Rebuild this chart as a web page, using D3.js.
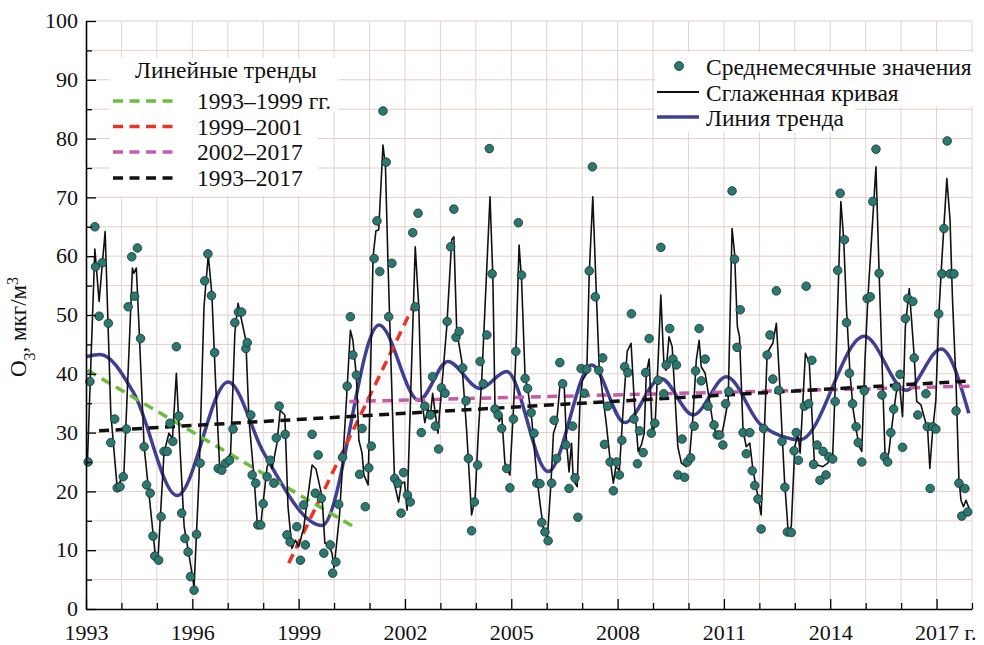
<!DOCTYPE html>
<html><head><meta charset="utf-8">
<script src="https://cdn.jsdelivr.net/npm/d3@7"></script>
<style>
body{margin:0;background:#fff}
svg{display:block}
</style>
</head><body>
<svg id="chart" width="984" height="645"></svg>
<script>
// ---- DATA ----
// monthly mean values [year, µg/m3]
const monthlyPoints = [
[1993.06,25.0],[1993.11,38.7],[1993.25,65.0],[1993.27,58.2],[1993.37,49.8],[1993.46,58.9],[1993.63,48.6],[1993.70,28.3],[1993.81,32.3],[1993.88,20.6],
[1993.96,20.8],[1994.05,22.5],[1994.14,30.6],[1994.19,51.4],[1994.29,59.9],[1994.37,53.2],[1994.45,61.4],[1994.54,46.0],[1994.64,27.6],[1994.71,21.1],
[1994.81,19.7],[1994.89,12.4],[1994.94,9.0],[1995.05,8.3],[1995.12,15.7],[1995.20,26.8],[1995.29,26.8],[1995.37,31.6],[1995.45,28.5],[1995.55,44.6],
[1995.62,32.8],[1995.70,16.3],[1995.79,12.0],[1995.88,9.7],[1995.95,5.5],[1996.05,3.2],[1996.12,12.7],[1996.22,24.8],[1996.35,55.8],[1996.44,60.4],
[1996.54,53.3],[1996.63,43.6],[1996.73,23.9],[1996.83,23.6],[1996.94,24.8],[1997.05,25.3],[1997.15,30.6],[1997.20,48.7],[1997.30,50.5],[1997.39,50.5],
[1997.51,44.3],[1997.55,45.3],[1997.65,33.0],[1997.69,22.8],[1997.79,21.4],[1997.85,14.3],[1997.93,14.3],[1998.00,17.9],[1998.11,22.5],[1998.20,25.3],
[1998.30,21.4],[1998.37,29.1],[1998.45,34.5],[1998.62,29.7],[1998.67,12.6],[1998.76,11.4],[1998.95,14.0],[1999.05,8.3],[1999.14,17.7],[1999.19,10.9],
[1999.38,29.7],[1999.47,19.7],[1999.55,26.2],[1999.64,18.8],[1999.71,9.5],[1999.89,10.9],[1999.96,6.1],[2000.05,8.0],[2000.13,17.8],[2000.24,25.8],
[2000.37,37.9],[2000.46,49.7],[2000.53,43.2],[2000.63,39.8],[2000.72,22.9],[2000.79,30.7],[2000.88,17.4],[2000.98,24.0],[2001.05,27.7],[2001.13,59.6],
[2001.21,66.0],[2001.29,57.4],[2001.38,84.7],[2001.47,76.0],[2001.54,49.7],[2001.63,58.8],[2001.71,22.2],[2001.80,21.4],[2001.89,16.3],[2001.96,23.2],
[2002.07,19.4],[2002.15,18.2],[2002.22,64.0],[2002.29,51.4],[2002.37,67.3],[2002.46,30.0],[2002.56,34.5],[2002.72,33.0],[2002.78,39.5],[2002.86,31.1],
[2002.95,27.2],[2003.03,37.6],[2003.13,36.7],[2003.19,48.9],[2003.29,61.6],[2003.38,68.0],[2003.44,46.2],[2003.53,47.2],[2003.63,41.0],[2003.72,35.4],
[2003.79,25.6],[2003.88,13.3],[2003.96,18.2],[2004.05,24.5],[2004.12,42.1],[2004.21,38.3],[2004.31,46.6],[2004.38,78.3],[2004.46,57.0],[2004.54,34.0],
[2004.63,33.0],[2004.73,30.7],[2004.87,23.9],[2004.96,20.6],[2005.06,32.3],[2005.13,43.8],[2005.20,65.7],[2005.29,56.8],[2005.39,39.2],[2005.46,37.5],
[2005.56,33.4],[2005.64,29.9],[2005.72,21.4],[2005.81,21.3],[2005.86,14.7],[2005.95,13.1],[2006.04,11.6],[2006.14,21.4],[2006.21,32.1],[2006.28,25.6],
[2006.37,41.9],[2006.45,38.3],[2006.54,27.9],[2006.63,20.5],[2006.73,31.1],[2006.80,22.3],[2006.88,15.6],[2006.97,40.9],[2007.06,36.7],[2007.13,40.8],
[2007.20,57.5],[2007.29,75.2],[2007.37,53.1],[2007.47,40.6],[2007.58,42.7],[2007.63,28.0],[2007.72,34.5],[2007.79,25.0],[2007.88,20.1],[2007.97,25.0],
[2008.05,22.8],[2008.12,28.7],[2008.20,41.2],[2008.29,40.2],[2008.39,50.2],[2008.46,32.3],[2008.56,24.7],[2008.62,30.3],[2008.72,26.6],[2008.79,40.2],
[2008.89,46.0],[2008.95,29.9],[2009.05,31.6],[2009.14,38.9],[2009.22,61.5],[2009.30,36.6],[2009.37,41.5],[2009.47,47.7],[2009.56,42.5],[2009.66,41.5],
[2009.70,22.8],[2009.82,28.9],[2009.89,22.4],[2009.97,25.0],[2010.06,25.7],[2010.16,31.1],[2010.20,40.5],[2010.30,47.7],[2010.36,38.8],[2010.47,42.5],
[2010.55,34.5],[2010.72,31.3],[2010.81,29.6],[2010.88,29.6],[2010.97,27.9],[2011.05,34.9],[2011.14,37.0],[2011.23,71.1],[2011.30,59.5],[2011.37,44.5],
[2011.46,50.9],[2011.54,30.0],[2011.63,26.4],[2011.73,30.0],[2011.80,23.5],[2011.87,21.0],[2011.96,18.7],[2012.05,13.6],[2012.12,30.7],[2012.22,43.2],
[2012.30,46.6],[2012.38,39.1],[2012.48,54.1],[2012.55,37.2],[2012.64,28.5],[2012.72,20.7],[2012.79,13.1],[2012.90,13.0],[2012.98,26.9],[2013.04,30.0],
[2013.10,25.3],[2013.27,34.5],[2013.32,54.9],[2013.39,34.9],[2013.48,42.3],[2013.53,24.6],[2013.63,27.9],[2013.71,21.9],[2013.80,26.8],[2013.88,22.8],
[2013.96,25.9],[2014.07,25.5],[2014.14,35.3],[2014.21,57.6],[2014.28,70.7],[2014.40,62.8],[2014.46,48.7],[2014.54,40.1],[2014.63,34.9],[2014.73,31.0],
[2014.79,28.3],[2014.89,25.0],[2014.96,37.1],[2015.04,52.8],[2015.13,53.1],[2015.20,69.3],[2015.29,78.2],[2015.38,57.1],[2015.46,36.4],[2015.53,25.9],
[2015.62,25.0],[2015.71,30.0],[2015.79,34.0],[2015.86,37.8],[2015.97,39.9],[2016.04,27.5],[2016.12,49.4],[2016.19,52.8],[2016.33,52.3],[2016.37,42.7],
[2016.47,33.0],[2016.70,36.6],[2016.74,31.0],[2016.82,20.5],[2016.89,31.0],[2016.98,30.6],[2017.06,50.2],[2017.15,57.0],[2017.21,64.7],[2017.30,79.6],
[2017.38,57.0],[2017.49,57.0],[2017.55,33.7],[2017.63,21.4],[2017.71,15.8],[2017.80,20.5],[2017.88,16.5]
];

// smoothed curve [year, value]
const smoothedCurve = [
[1993.04,25.0],[1993.25,61.2],[1993.37,52.3],[1993.54,64.2],[1993.70,33.3],[1993.88,20.6],[1994.07,23.1],[1994.31,58.0],[1994.35,57.1],[1994.42,58.0],
[1994.50,47.4],[1994.64,27.6],[1994.78,19.4],[1994.97,8.3],[1995.03,8.4],[1995.20,26.5],[1995.34,29.9],[1995.44,29.0],[1995.55,40.1],[1995.67,25.3],
[1995.77,14.0],[1995.93,8.3],[1996.05,3.8],[1996.19,22.5],[1996.33,51.4],[1996.45,60.2],[1996.55,53.7],[1996.66,38.1],[1996.78,23.1],[1996.89,24.2],
[1997.08,26.5],[1997.20,46.9],[1997.29,52.0],[1997.51,45.7],[1997.60,32.1],[1997.74,22.5],[1997.83,14.8],[1997.93,14.3],[1998.11,24.2],[1998.20,25.3],
[1998.25,23.9],[1998.39,28.2],[1998.48,33.8],[1998.61,33.0],[1998.70,17.4],[1998.81,10.3],[1998.91,11.7],[1999.00,10.6],[1999.14,13.7],[1999.38,24.5],
[1999.49,23.8],[1999.66,19.1],[1999.74,11.2],[1999.85,10.9],[1999.94,9.5],[2000.00,7.0],[2000.15,15.7],[2000.25,25.6],[2000.36,36.7],[2000.46,47.4],
[2000.53,45.7],[2000.63,39.5],[2000.70,28.7],[2000.79,26.5],[2000.84,22.8],[2000.96,21.1],[2001.10,59.9],[2001.18,64.3],[2001.26,64.5],[2001.38,78.9],
[2001.45,75.2],[2001.52,59.1],[2001.71,21.1],[2001.82,18.2],[2001.90,21.4],[2001.99,21.6],[2002.06,16.8],[2002.29,61.6],[2002.39,51.4],[2002.46,36.1],
[2002.56,31.7],[2002.65,34.1],[2002.71,32.4],[2002.78,36.7],[2002.93,29.9],[2003.18,48.0],[2003.32,62.8],[2003.38,63.3],[2003.46,47.4],[2003.60,42.3],
[2003.74,30.4],[2003.88,16.0],[2003.98,18.8],[2004.07,29.9],[2004.17,39.5],[2004.40,70.1],[2004.48,56.5],[2004.54,34.4],[2004.66,31.9],[2004.73,33.0],
[2004.82,24.8],[2004.96,22.8],[2005.06,33.8],[2005.13,43.5],[2005.22,61.9],[2005.29,56.0],[2005.39,39.5],[2005.48,36.7],[2005.58,32.1],[2005.72,22.5],
[2005.81,18.0],[2005.92,13.1],[2006.02,12.3],[2006.12,21.4],[2006.19,29.9],[2006.28,31.6],[2006.37,37.8],[2006.49,38.4],[2006.56,28.2],[2006.63,23.3],
[2006.70,28.2],[2006.75,21.9],[2006.86,20.8],[2006.94,35.5],[2007.01,38.9],[2007.13,40.1],[2007.20,57.1],[2007.30,70.1],[2007.41,52.0],[2007.48,41.2],
[2007.60,35.5],[2007.69,31.0],[2007.79,25.3],[2007.88,21.4],[2007.95,24.2],[2008.05,23.6],[2008.15,33.3],[2008.27,43.8],[2008.38,45.2],[2008.48,34.4],
[2008.58,26.8],[2008.67,27.9],[2008.75,29.9],[2008.81,40.1],[2008.89,42.5],[2008.98,29.6],[2009.06,31.6],[2009.14,41.8],[2009.22,53.4],[2009.31,41.2],
[2009.37,40.6],[2009.45,46.3],[2009.54,44.6],[2009.70,27.6],[2009.80,24.8],[2009.94,24.2],[2010.03,25.9],[2010.13,33.0],[2010.22,42.3],[2010.30,45.7],
[2010.36,41.2],[2010.47,40.1],[2010.69,31.6],[2010.79,29.6],[2010.93,29.3],[2011.02,32.1],[2011.12,35.5],[2011.23,64.7],[2011.30,60.5],[2011.38,48.0],
[2011.44,46.3],[2011.54,30.4],[2011.63,27.6],[2011.73,28.2],[2011.82,23.6],[2011.96,19.1],[2012.05,16.0],[2012.15,31.6],[2012.22,43.5],[2012.32,44.6],
[2012.38,45.2],[2012.48,48.6],[2012.57,38.9],[2012.64,29.9],[2012.71,21.9],[2012.81,13.4],[2012.90,14.0],[2013.00,27.6],[2013.09,29.9],[2013.15,26.5],
[2013.22,34.4],[2013.30,43.5],[2013.41,41.8],[2013.55,25.3],[2013.64,24.5],[2013.79,24.2],[2013.93,24.8],[2014.07,26.2],[2014.14,37.8],[2014.30,69.3],
[2014.38,62.8],[2014.46,50.9],[2014.56,39.8],[2014.65,33.8],[2014.75,29.9],[2014.82,27.6],[2014.89,26.8],[2014.98,42.3],[2015.06,52.6],[2015.29,75.2],
[2015.38,57.1],[2015.55,25.6],[2015.65,26.5],[2015.76,32.1],[2015.86,36.7],[2015.95,38.4],[2016.04,32.7],[2016.12,48.0],[2016.23,54.5],[2016.37,42.9],
[2016.44,35.3],[2016.56,34.7],[2016.75,30.4],[2016.81,23.9],[2016.89,30.4],[2016.98,35.5],[2017.06,49.7],[2017.15,59.4],[2017.29,73.2],[2017.38,66.2],
[2017.45,52.6],[2017.55,38.4],[2017.63,22.2],[2017.69,18.5],[2017.76,17.4],[2017.83,18.5],[2017.92,17.1]
];

// trend curve [year, value]
const trendCurve = [
[1993.00,42.9],[1993.40,43.3],[1994.35,36.7],[1995.57,19.3],[1997.01,38.6],[1998.02,26.5],[1999.66,14.2],[2001.27,48.3],[2002.39,35.5],
[2003.21,42.1],[2004.12,37.5],[2004.87,40.4],[2006.04,23.4],[2007.27,41.5],[2008.20,31.7],[2009.22,39.2],[2010.13,33.0],[2011.07,39.5],
[2012.05,31.3],[2013.15,28.8],[2014.96,46.4],[2016.14,37.2],[2017.13,44.2],[2017.91,33.3]
];

// linear trends: labels, colours and end points
const linearTrendLabels = ["1993–1999 гг.", "1999–2001", "2002–2017", "1993–2017"];
const linearTrendColors = ["#6cbd3c", "#ee3325", "#c45ca8", "#111111"];
const linearTrendEnds = [
  [[1993.04,40.6],[2000.55,14.0]],
  [[1998.72,7.8],[2002.25,51.7]],
  [[2000.43,35.3],[2018.0,37.9]],
  [[1993.37,30.3],[2018.0,38.8]]
];

const xMajorTicks = [1993,1996,1999,2002,2005,2008,2011,2014,2017];
const xMinorTicks = d3.range(1994, 2019).filter(y => (y - 1993) % 3 !== 0);
const yMajorTicks = [0,10,20,30,40,50,60,70,80,90,100];
const yMinorTicks = [5,15,25,35,45,55,65,75,85,95];
const legendTitle = "Линейные тренды";
const seriesLabels = ["Среднемесячные значения", "Сглаженная кривая", "Линия тренда"];

// ---- DRAW ----
const svg = d3.select("#chart");
const x = d3.scaleLinear().domain([1993, 2018]).range([86, 972]);
const y = d3.scaleLinear().domain([0, 100]).range([609, 21]);
const FONT = "'Liberation Serif', 'DejaVu Serif', 'Noto Serif', 'Tinos', 'FreeSerif', 'Nimbus Roman', 'Times New Roman', Times, serif";
const txt = (sel, fs = 23.5) => sel.style("font-family", FONT).style("font-size", fs + "px").style("fill", "#111");

// grid
const grid = svg.append("g");
grid.selectAll("line.v").data(d3.range(1994, 2019)).join("line")
  .attr("x1", d => x(d)).attr("x2", d => x(d)).attr("y1", y(0)).attr("y2", y(100))
  .attr("stroke", "#ddd5d1").attr("stroke-width", 1);
grid.selectAll("line.h").data(d3.range(5, 101, 5)).join("line")
  .attr("x1", x(1993)).attr("x2", x(2018)).attr("y1", d => y(d)).attr("y2", d => y(d))
  .attr("stroke", "#e6cdc8").attr("stroke-width", 1);

// legend backgrounds
const bg = svg.append("g").attr("fill", "#fff");
bg.append("rect").attr("x", 110).attr("y", 58).attr("width", 228).attr("height", 54);
bg.append("rect").attr("x", 110).attr("y", 112).attr("width", 208).attr("height", 84);
bg.append("rect").attr("x", 655).attr("y", 52).attr("width", 320).attr("height", 54);
bg.append("rect").attr("x", 655).attr("y", 106).attr("width", 200).attr("height", 26);

// trend curve
svg.append("path").datum(trendCurve)
  .attr("d", d3.line().x(d => x(d[0])).y(d => y(d[1])).curve(d3.curveMonotoneX))
  .attr("fill", "none").attr("stroke", "#3f3f94").attr("stroke-width", 3.5);

// linear trends
linearTrendEnds.forEach((pts, i) => {
  svg.append("path").datum(pts)
    .attr("d", d3.line().x(d => x(d[0])).y(d => y(d[1])))
    .attr("fill", "none").attr("stroke", linearTrendColors[i])
    .attr("stroke-width", 3.5).attr("stroke-dasharray", "10,6.5");
});

// smoothed curve
svg.append("path").datum(smoothedCurve)
  .attr("d", d3.line().x(d => x(d[0])).y(d => y(d[1])))
  .attr("fill", "none").attr("stroke", "#111").attr("stroke-width", 1.6)
  .attr("stroke-linejoin", "round");

// points
svg.append("g").selectAll("circle").data(monthlyPoints).join("circle")
  .attr("cx", d => x(d[0])).attr("cy", d => y(d[1])).attr("r", 4.3)
  .attr("fill", "#2b7870").attr("stroke", "#18302e").attr("stroke-width", 0.8);

// axes
const axStyle = g => {
  g.select(".domain").attr("stroke", "#000").attr("stroke-width", 1.6);
  g.selectAll(".tick line").attr("stroke", "#000").attr("stroke-width", 1.3);
  g.selectAll("text").call(txt, 22);
};
svg.append("g").attr("transform", `translate(0,${y(0)})`)
  .call(d3.axisBottom(x).tickValues(xMinorTicks).tickSizeInner(-6).tickSizeOuter(0).tickFormat(""))
  .call(axStyle);
const xa = svg.append("g").attr("transform", `translate(0,${y(0)})`)
  .call(d3.axisBottom(x).tickValues(xMajorTicks).tickSizeInner(-10).tickSizeOuter(0).tickFormat(d3.format("d")))
  .call(axStyle);
xa.select(".domain").remove();
xa.selectAll(".tick text").attr("dy", null).attr("y", 31.3);
// "г." suffix after 2017
svg.append("text").attr("x", x(2017) + 28).attr("y", y(0) + 31.3).text("г.").call(txt, 22);

svg.append("g").attr("transform", `translate(${x(1993)},0)`)
  .call(d3.axisLeft(y).tickValues(yMinorTicks).tickSizeInner(-6).tickSizeOuter(0).tickFormat(""))
  .call(axStyle);
const ya = svg.append("g").attr("transform", `translate(${x(1993)},0)`)
  .call(d3.axisLeft(y).tickValues(yMajorTicks).tickSizeInner(-10).tickSizeOuter(0).tickPadding(8).tickFormat(d3.format("d")))
  .call(axStyle);
ya.select(".domain").remove();
ya.selectAll(".tick text").attr("dy", "0.3em");

// y label
const yl = svg.append("text").attr("transform", "translate(26,327) rotate(-90)")
  .attr("text-anchor", "middle").call(txt, 23);
yl.append("tspan").text("O");
yl.append("tspan").attr("baseline-shift", "sub").style("font-size", "16px").text("3");
yl.append("tspan").text(", мкг/м");
yl.append("tspan").attr("baseline-shift", "super").style("font-size", "16px").text("3");

// left legend
svg.append("text").attr("x", 135).attr("y", 78).text(legendTitle).call(txt);
const rowsY = [101, 126.5, 152, 178];
linearTrendLabels.forEach((lab, i) => {
  svg.append("line").attr("x1", 113).attr("x2", 179).attr("y1", rowsY[i]).attr("y2", rowsY[i])
    .attr("stroke", linearTrendColors[i]).attr("stroke-width", 3.5).attr("stroke-dasharray", "10,6.5");
  svg.append("text").attr("x", 197).attr("y", rowsY[i] + 8).text(lab).call(txt);
});

// right legend
svg.append("circle").attr("cx", 679).attr("cy", 66).attr("r", 4.5)
  .attr("fill", "#2b7870").attr("stroke", "#18302e").attr("stroke-width", 0.8);
svg.append("line").attr("x1", 657).attr("x2", 699).attr("y1", 92).attr("y2", 92)
  .attr("stroke", "#111").attr("stroke-width", 1.8);
svg.append("line").attr("x1", 657).attr("x2", 699).attr("y1", 117).attr("y2", 117)
  .attr("stroke", "#3f3f94").attr("stroke-width", 3.5);
[75, 101, 126].forEach((yy, i) => {
  svg.append("text").attr("x", 706).attr("y", yy).text(seriesLabels[i]).call(txt);
});
</script>
</body></html>
